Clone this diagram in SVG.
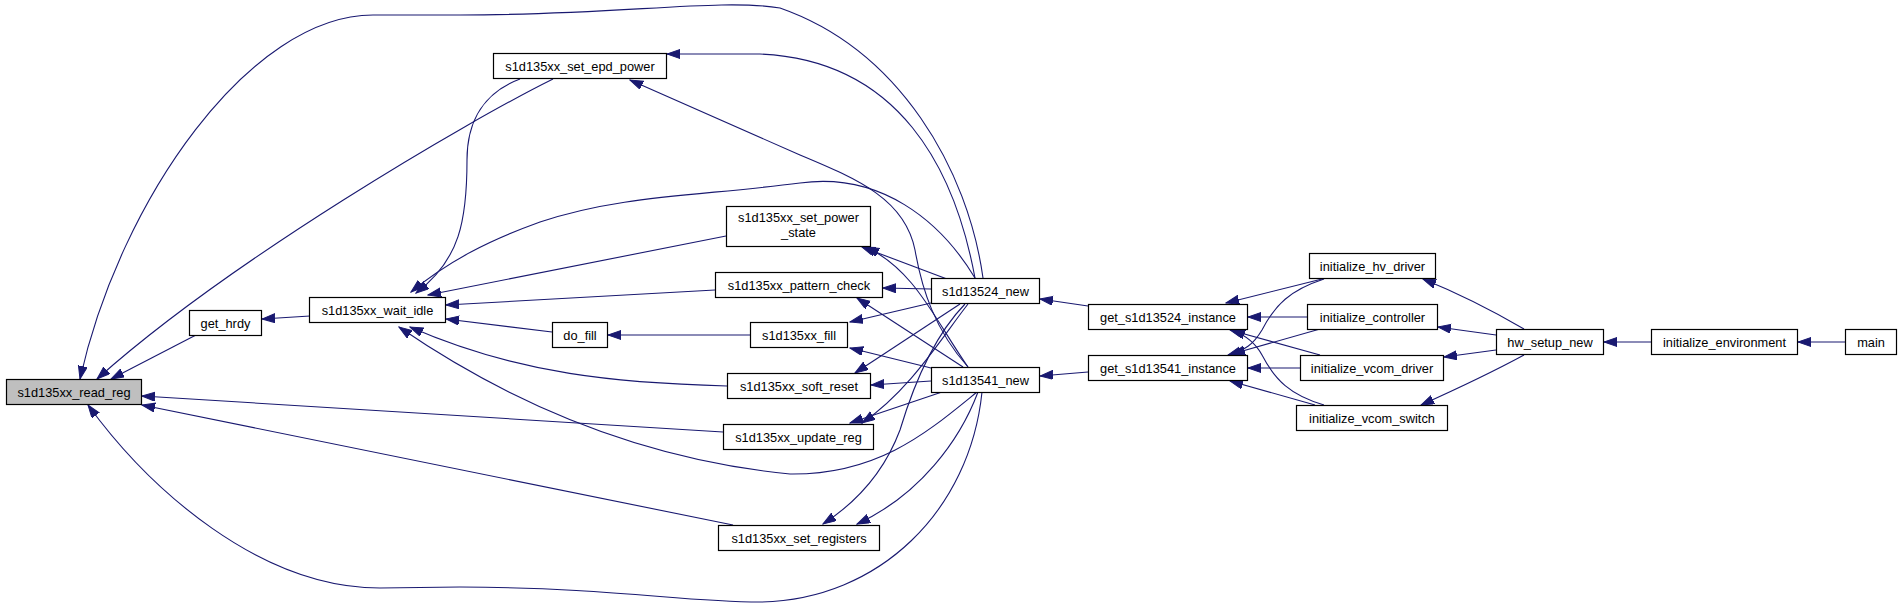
<svg xmlns="http://www.w3.org/2000/svg" width="1901" height="610" viewBox="0 0 1901 610">
<defs>
<style>
.n rect{fill:#fff;stroke:#000;stroke-width:1.2}
.n text{font-family:"Liberation Sans",Arial,sans-serif;font-size:12.8px;text-anchor:middle;fill:#000}
#read_reg rect{fill:#bfbfbf}
.e path{fill:none;stroke:#191970;stroke-width:1.1;marker-end:url(#arr)}
</style>
<marker id="arr" markerUnits="userSpaceOnUse" markerWidth="14" markerHeight="10" refX="13" refY="4.5" orient="auto">
<path d="M0,0 L13,4.5 L0,9 z" fill="#191970" stroke="#191970" stroke-width="1"/>
</marker>
</defs>
<g class="e" id="edges">
<path d="M196,335 L111,379"/>
<path d="M553,79 C470,120 230,260 97,379"/>
<path d="M983,278 C968,170 900,50 780,8 C720,-2 620,15 460,15 L373,15 C250,15 120,200 80,379"/>
<path d="M982,392 C970,510 880,600 760,602 C680,602 620,588 460,587 L380,588 C260,588 150,490 88,405"/>
<path d="M723,432 C500,420 300,405 142,396"/>
<path d="M733,525 L142,405"/>
<path d="M310,316 L262,319"/>
<path d="M520,79 C485,92 467,120 467,160 C467,220 460,260 416,293"/>
<path d="M975,278 C940,220 880,172 800,183 C700,196 620,195 540,222 C490,240 450,260 411,292"/>
<path d="M726,236 L428,295"/>
<path d="M715,290 L446,305"/>
<path d="M552,332 L446,319"/>
<path d="M727,386 C620,383 520,375 410,327"/>
<path d="M977,392 C930,430 880,475 790,474 C650,460 520,410 399,327"/>
<path d="M975,278 C955,170 900,60 760,54 L667,54"/>
<path d="M968,367 C935,330 922,290 915,250 C905,200 860,180 800,155 L630,80"/>
<path d="M947,279 L862,247"/>
<path d="M968,367 C935,320 915,270 866,247"/>
<path d="M931,289 L883,288"/>
<path d="M963,367 L857,298"/>
<path d="M931,303 L850,322"/>
<path d="M931,368 L850,348"/>
<path d="M960,304 L855,373"/>
<path d="M931,381 L871,385"/>
<path d="M968,304 C940,340 910,390 862,423"/>
<path d="M942,392 L850,423"/>
<path d="M965,304 C935,335 915,380 900,430 C885,470 860,500 823,524"/>
<path d="M978,392 C960,440 920,495 857,524"/>
<path d="M750,335 L608,335"/>
<path d="M1088,306 L1040,299"/>
<path d="M1088,372 L1040,376"/>
<path d="M1322,279 L1226,303"/>
<path d="M1324,279 C1290,290 1275,305 1262,330 C1253,345 1245,350 1228,355"/>
<path d="M1307,317 L1248,317"/>
<path d="M1320,329 L1232,354"/>
<path d="M1320,355 L1230,330"/>
<path d="M1300,368 L1248,368"/>
<path d="M1324,405 C1290,395 1275,380 1262,355 C1255,342 1245,335 1232,330"/>
<path d="M1315,405 L1230,381"/>
<path d="M1524,329 C1500,315 1470,298 1423,279"/>
<path d="M1496,335 L1438,327"/>
<path d="M1496,350 L1444,357"/>
<path d="M1524,355 C1500,368 1470,383 1421,405"/>
<path d="M1651,342 L1604,342"/>
<path d="M1845,342 L1798,342"/>
</g>
<g class="n" id="read_reg"><rect x="6.5" y="379.5" width="135" height="25"/><text x="74" y="396.5">s1d135xx_read_reg</text></g>
<g class="n" id="get_hrdy"><rect x="189.5" y="310.5" width="72" height="25"/><text x="225.5" y="327.5">get_hrdy</text></g>
<g class="n" id="wait_idle"><rect x="309.5" y="297.5" width="136" height="25"/><text x="377.5" y="314.5">s1d135xx_wait_idle</text></g>
<g class="n" id="set_epd_power"><rect x="493.5" y="53.5" width="173" height="25"/><text x="580" y="70.5">s1d135xx_set_epd_power</text></g>
<g class="n" id="set_power_state"><rect x="726.5" y="206.5" width="144" height="40"/><text x="798.5" y="222">s1d135xx_set_power</text><text x="798.5" y="237">_state</text></g>
<g class="n" id="pattern_check"><rect x="715.5" y="272.5" width="167" height="25"/><text x="799" y="289.5">s1d135xx_pattern_check</text></g>
<g class="n" id="do_fill"><rect x="552.5" y="322.5" width="55" height="25"/><text x="580" y="339.5">do_fill</text></g>
<g class="n" id="fill"><rect x="750.5" y="322.5" width="97" height="25"/><text x="799" y="339.5">s1d135xx_fill</text></g>
<g class="n" id="soft_reset"><rect x="727.5" y="373.5" width="143" height="25"/><text x="799" y="390.5">s1d135xx_soft_reset</text></g>
<g class="n" id="update_reg"><rect x="723.5" y="424.5" width="150" height="25"/><text x="798.5" y="441.5">s1d135xx_update_reg</text></g>
<g class="n" id="set_registers"><rect x="718.5" y="525.5" width="161" height="25"/><text x="799" y="542.5">s1d135xx_set_registers</text></g>
<g class="n" id="s1d13524_new"><rect x="931.5" y="278.5" width="108" height="25"/><text x="985.5" y="295.5">s1d13524_new</text></g>
<g class="n" id="s1d13541_new"><rect x="931.5" y="367.5" width="108" height="25"/><text x="985.5" y="384.5">s1d13541_new</text></g>
<g class="n" id="get_s1d13524_instance"><rect x="1088.5" y="304.5" width="159" height="25"/><text x="1168" y="321.5">get_s1d13524_instance</text></g>
<g class="n" id="get_s1d13541_instance"><rect x="1088.5" y="355.5" width="159" height="25"/><text x="1168" y="372.5">get_s1d13541_instance</text></g>
<g class="n" id="initialize_hv_driver"><rect x="1309.5" y="253.5" width="126" height="25"/><text x="1372.5" y="270.5">initialize_hv_driver</text></g>
<g class="n" id="initialize_controller"><rect x="1307.5" y="304.5" width="130" height="25"/><text x="1372.5" y="321.5">initialize_controller</text></g>
<g class="n" id="initialize_vcom_driver"><rect x="1300.5" y="355.5" width="143" height="25"/><text x="1372" y="372.5">initialize_vcom_driver</text></g>
<g class="n" id="initialize_vcom_switch"><rect x="1296.5" y="405.5" width="151" height="25"/><text x="1372" y="422.5">initialize_vcom_switch</text></g>
<g class="n" id="hw_setup_new"><rect x="1496.5" y="329.5" width="107" height="25"/><text x="1550" y="346.5">hw_setup_new</text></g>
<g class="n" id="initialize_environment"><rect x="1651.5" y="329.5" width="146" height="25"/><text x="1724.5" y="346.5">initialize_environment</text></g>
<g class="n" id="main"><rect x="1845.5" y="329.5" width="51" height="25"/><text x="1871" y="346.5">main</text></g>
</svg>
